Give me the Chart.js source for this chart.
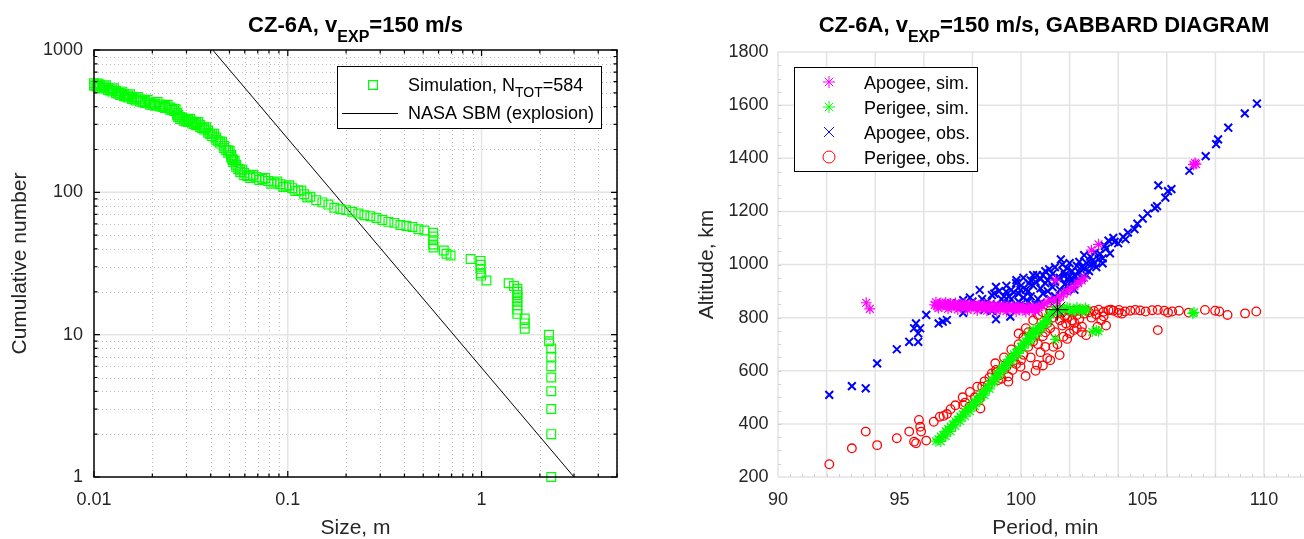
<!DOCTYPE html>
<html>
<head>
<meta charset="utf-8">
<script src="https://cdn.jsdelivr.net/npm/chart.js@4.4.1/dist/chart.umd.min.js"></script>
<style>
  html, body { margin: 0; padding: 0; background: #fff; overflow: hidden; }
  #wrap { position: relative; width: 1304px; height: 539px; overflow: hidden; }
  #cLeft { position: absolute; left: 0; top: 0; }
  #cRight { position: absolute; left: 640px; top: 0; }
</style>
</head>
<body>
<div id="wrap">
  <canvas id="cLeft" width="640" height="539"></canvas>
  <canvas id="cRight" width="700" height="539"></canvas>
</div>
<script>
// ---- left panel: cumulative size distribution ----
const simSize = [0.0100, 0.01036, 0.01074, 0.01126, 0.01181, 0.01239, 0.01299, 0.01363, 0.01429, 0.01498,
  0.01572, 0.01648, 0.01729, 0.01835, 0.01947, 0.02067, 0.02193, 0.02328, 0.02471, 0.02591,
  0.02685, 0.02717, 0.02783, 0.02918, 0.03060, 0.03210, 0.03366, 0.03530, 0.03703, 0.03883,
  0.04073, 0.04271, 0.04480, 0.04697, 0.04927, 0.05105, 0.05228, 0.05418, 0.05682, 0.05959,
  0.0640, 0.06874, 0.07384, 0.0793, 0.0852, 0.0915, 0.0982, 0.1055, 0.1133, 0.1217,
  0.1307, 0.1404, 0.1508, 0.1620, 0.1739, 0.1867, 0.2005, 0.2154, 0.2313, 0.2484,
  0.2669, 0.2866, 0.3078, 0.3306, 0.3550, 0.3813, 0.4095, 0.4398, 0.4723, 0.5073,
  0.563, 0.563, 0.563, 0.563, 0.565, 0.638, 0.659, 0.692, 0.878, 0.988,
  0.988, 0.988, 0.990, 0.995, 1.06, 1.38, 1.47, 1.53, 1.53, 1.53,
  1.53, 1.53, 1.53, 1.53, 1.53, 1.67, 1.67, 1.67, 2.23, 2.23,
  2.29, 2.29, 2.29, 2.29, 2.29, 2.29, 2.29, 2.29,
  // upper-edge readings of the dense band
  0.01018, 0.01055, 0.0110, 0.01153, 0.0121, 0.01269, 0.01331, 0.01396, 0.01463, 0.01535,
  0.0161, 0.01688, 0.01781, 0.0189, 0.02006, 0.02129, 0.0226, 0.02398, 0.0253, 0.02638,
  0.0285, 0.02988, 0.03134, 0.03287, 0.03447, 0.03615, 0.03792, 0.03977, 0.04171, 0.04374,
  0.04587, 0.04811, 0.05015, 0.05166, 0.05322, 0.05548, 0.05819, 0.06176, 0.06633, 0.07124,
  0.07652, 0.0822, 0.0883, 0.0948, 0.1018, 0.1093, 0.1174, 0.1261,
  // lower-edge readings of the dense band
  0.0100, 0.01036, 0.01074, 0.01126, 0.01181, 0.01239, 0.01299, 0.01363, 0.01429, 0.01498,
  0.01572, 0.01648, 0.01729, 0.01835, 0.01947, 0.02067, 0.02193, 0.02328, 0.02471, 0.02591,
  0.02685, 0.02717, 0.02783, 0.02918, 0.03060, 0.03210, 0.03366, 0.03530, 0.03703, 0.03883,
  0.04073, 0.04271, 0.04480, 0.04697, 0.04927, 0.05105, 0.05228, 0.05418, 0.05682, 0.05959,
  0.0640];
const simCount = [584, 573, 564, 555, 542, 529, 516, 499, 491, 480,
  468, 457, 450, 439, 428, 421, 415, 405, 395, 386,
  361, 350, 339, 328, 323, 315, 307, 298, 286, 272,
  257, 243, 228, 212, 197, 183, 169, 156, 144, 137,
  131, 128, 124, 120, 117, 114, 110, 107, 103, 97,
  93, 88, 85, 82, 78, 76, 75, 73, 71, 69,
  68, 66, 64, 62, 61, 59, 58, 57, 55, 54,
  52, 49, 46, 43, 41, 39, 37, 36, 34, 33,
  31, 29, 27, 26, 24, 23, 22, 21, 20, 19,
  18, 17, 16, 15, 14, 13, 12, 11, 10, 9,
  8, 7, 6, 5, 4, 3, 2, 1,
  561, 582, 543, 565, 519, 538, 492, 510, 471, 488,
  449, 467, 431, 447, 412, 431, 398, 412, 379, 384,
  336, 315, 329, 302, 312, 283, 287, 257, 258, 228,
  227, 198, 196, 171, 167, 146, 145, 130, 133, 122,
  126, 115, 119, 109, 112, 102, 103, 92,
  564, 553, 544, 536, 523, 510, 498, 482, 474, 463,
  452, 441, 434, 424, 413, 406, 400, 391, 381, 372,
  348, 338, 327, 317, 312, 304, 296, 288, 276, 262,
  248, 234, 220, 205, 190, 177, 163, 151, 139, 132,
  126];
const sbmSize = [0.041, 3.0];
const sbmCount = [1000, 1];
const sizeTicks = [0.01, 0.1, 1];
const countTicks = [1, 10, 100, 1000];

// ---- right panel: Gabbard diagram ----
const apoSimPeriod = [96.45, 96.55, 96.65, 96.75, 96.85, 96.95, 97.05, 97.15, 97.25, 97.35,
  97.45, 97.55, 97.65, 97.75, 97.85, 97.95, 98.05, 98.15, 98.25, 98.35,
  98.45, 98.55, 98.65, 98.75, 98.85, 98.95, 99.05, 99.15, 99.25, 99.35,
  99.45, 99.55, 99.65, 99.75, 99.85, 99.95, 100.05, 100.15, 100.25, 100.35,
  100.45, 100.55, 100.65, 100.75, 100.85, 100.95, 101.1, 101.25, 101.45, 101.6,
  101.75, 101.9, 102.05, 102.2, 102.35, 102.5, 102.6,
  96.5, 96.7, 96.9, 97.1, 97.3, 97.5, 97.7, 97.9, 98.1, 98.3,
  98.5, 98.7, 98.9, 99.1, 99.3, 99.5, 99.7, 99.9, 100.1, 100.3, 100.5,
  96.6, 97.0, 97.4, 97.8, 98.2, 98.6, 99.0, 99.4, 99.8, 100.2, 100.6,
  93.63, 93.78, 101.42, 101.47, 102.9, 103.19, 107.1, 107.16, 107.2];
const apoSimAlt = [848, 844, 849, 845, 850, 843, 847, 842, 846, 841,
  846, 840, 845, 839, 844, 839, 843, 838, 842, 837,
  842, 836, 841, 836, 840, 835, 840, 834, 839, 834,
  838, 833, 838, 833, 837, 832, 836, 831, 836, 831,
  835, 832, 836, 840, 846, 852, 858, 866, 862, 878,
  888, 898, 908, 918, 930, 940, 950,
  858, 855, 857, 853, 855, 851, 853, 849, 851, 847,
  849, 845, 847, 843, 845, 841, 843, 840, 842, 838, 840,
  836, 833, 831, 829, 827, 826, 825, 824, 823, 822, 823,
  856, 833, 941, 866, 1054, 1076, 1376, 1382, 1378];

const periSimPeriod = [96.5, 96.6, 96.7, 96.8, 96.9, 97.0, 97.1, 97.2, 97.3, 97.4,
  97.5, 97.6, 97.7, 97.8, 97.9, 98.0, 98.1, 98.2, 98.3, 98.4,
  98.5, 98.6, 98.7, 98.8, 98.9, 99.0, 99.1, 99.2, 99.3, 99.4,
  99.5, 99.6, 99.7, 99.8, 99.9, 100.0, 100.1, 100.2, 100.3, 100.4,
  100.5, 100.6, 100.7, 100.8, 100.9, 101.0, 101.1, 101.2, 101.3, 101.4,
  101.5, 101.6, 101.8, 102.0, 102.2, 102.4, 102.55, 102.7,
  96.7, 96.9, 97.1, 97.3, 97.5, 97.7, 97.9, 98.1, 98.3, 98.5,
  98.7, 98.9, 99.1, 99.3, 99.5, 99.7, 99.9, 100.1, 100.3, 100.5,
  100.7, 100.9, 101.1,
  101.6, 101.9, 102.1, 102.3, 102.5, 102.65,
  107.07, 107.12, 102.93, 103.19, 103.1, 101.42, 100.32, 100.5];
const periSimAlt = [335, 342, 352, 358, 372, 380, 390, 398, 410, 416,
  428, 436, 447, 454, 466, 474, 485, 492, 505, 512,
  526, 534, 550, 560, 575, 584, 598, 606, 622, 628,
  643, 650, 662, 668, 683, 690, 704, 710, 722, 728,
  742, 748, 760, 766, 780, 788, 800, 812, 822, 828,
  830, 834, 830, 833, 828, 832, 830, 828,
  334, 354, 372, 392, 410, 429, 448, 467, 487, 508,
  532, 557, 580, 604, 625, 644, 665, 686, 704, 724,
  742, 762, 782,
  822, 838, 822, 838, 822, 836,
  816, 820, 747, 749, 752, 718, 734, 755];

const apoObsPeriod = [109.71, 109.21, 108.53, 108.11, 108.03, 107.6, 106.93, 106.19, 106.05, 105.65,
  105.94, 105.6, 105.51, 105.21, 105.01, 104.79, 104.67, 104.4, 104.2, 104.3,
  104.0, 103.85, 103.66, 103.5, 103.36, 103.2, 103.1, 102.9, 102.8, 102.7,
  102.6, 102.5, 102.4, 102.3, 102.2, 102.1, 102.0, 101.9, 101.8, 101.64,
  101.16, 101.75, 101.6, 101.4, 101.2, 101.0, 100.8, 100.66, 100.5, 100.32,
  100.2, 99.98, 99.81, 99.7, 99.56, 99.5, 99.39, 99.2, 98.97, 98.97,
  98.8, 98.6, 98.3, 98.13, 97.9, 97.62, 97.62, 97.35, 97.12, 96.95,
  96.78, 96.61, 96.1, 95.85, 95.77, 95.77, 95.68, 95.6, 95.4, 94.89,
  94.08, 93.61, 93.04, 92.11,
  99.0, 99.3, 99.6, 99.9, 100.1, 100.4, 100.7, 100.9, 101.1, 101.3,
  100.6, 100.2, 99.8, 101.6, 101.9, 102.1, 98.5, 98.8, 102.6, 103.0, 103.36,
  98.2, 98.4, 98.6, 98.9, 99.1, 99.3, 99.4, 99.6, 99.8, 99.9,
  100.0, 100.1, 100.3, 100.4, 100.5, 100.6, 100.8, 100.9, 101.0, 101.1,
  101.3, 101.4, 101.5, 101.7, 101.8, 101.9, 102.0, 102.1, 102.3, 102.4,
  102.5, 102.7, 102.85, 102.95, 103.05, 103.25, 103.45, 103.6, 103.8, 99.5,
  100.0, 100.3, 100.8, 101.2, 101.4, 97.8, 98.0, 99.2, 101.8, 102.2];
const apoObsAlt = [1606, 1569, 1515, 1471, 1453, 1408, 1353, 1284, 1276, 1298,
  1252, 1220, 1212, 1192, 1173, 1154, 1133, 1120, 1104, 1095,
  1080, 1085, 1042, 1060, 1004, 1020, 990, 1000, 975, 960,
  985, 950, 970, 940, 960, 930, 955, 945, 925, 1019,
  982, 973, 950, 935, 955, 930, 945, 960, 920, 929,
  905, 904, 941, 895, 804, 880, 898, 870, 916, 794,
  885, 860, 904, 841, 875, 866, 818, 852, 854, 791,
  785, 778, 810, 760, 741, 709, 778, 760, 709, 681,
  628, 534, 542, 509,
  850, 860, 870, 860, 875, 880, 870, 890, 900, 915,
  850, 845, 845, 905, 920, 940, 830, 825, 1035, 1004, 1023,
  850, 870, 845, 890, 900, 880, 920, 905, 930, 890,
  920, 950, 900, 940, 960, 935, 910, 960, 975, 940,
  965, 990, 950, 1000, 960, 985, 1005, 975, 995, 1010,
  990, 1005, 1030, 1015, 1045, 1040, 1070, 1090, 1100, 855,
  850, 860, 855, 870, 880, 845, 860, 838, 900, 905];

const periObsPeriod = [92.11, 93.04, 93.61, 94.08, 94.89, 95.4, 95.6, 95.68, 95.8, 95.85,
  95.89, 96.1, 96.41, 96.66, 96.81, 96.95, 97.62, 97.88, 98.33, 98.3,
  98.63, 98.94, 99.06, 98.4, 98.1, 97.7, 98.8,
  99.14, 99.48, 99.48, 99.65, 99.98, 100.19, 100.66, 101.08, 101.59, 101.33,
  101.75, 102.0, 102.18, 102.51, 101.85, 98.97, 99.3, 99.6, 99.9, 100.1,
  100.3, 100.5, 100.7, 100.9, 101.0, 101.2, 101.4, 101.6, 101.7, 101.9,
  102.1, 102.3, 102.4, 102.6, 102.8, 103.0, 103.2, 103.4, 103.6, 103.3,
  103.5, 102.9, 103.15, 102.68, 100.8, 101.1, 101.3, 101.5, 101.7, 102.2,
  102.4, 100.0, 99.8, 100.4, 100.8, 99.2,
  104.03, 104.28, 104.5, 104.7, 104.9, 105.13, 105.4, 105.63, 105.9, 106.05,
  106.22, 106.5, 106.9, 107.57, 107.99, 108.16, 108.5, 109.22, 109.68, 105.63,
  103.8, 104.15,
  99.9, 100.2, 100.5, 100.7, 100.9, 101.2, 101.6, 102.0, 102.7, 103.1,
  103.4, 103.7, 104.0, 101.8, 102.2, 102.5, 101.0, 100.6, 100.3, 100.1,
  100.6, 101.2, 100.9, 101.5, 101.9, 102.3, 99.7, 99.4, 99.0, 98.7,
  98.5, 98.2, 97.9, 97.6, 97.3, 97.1];
const periObsAlt = [248, 308, 371, 320, 346, 371, 333, 327, 415, 389,
  371, 337, 408, 427, 430, 437, 471, 465, 458, 496,
  546, 628, 565, 540, 500, 480, 590,
  584, 578, 559, 603, 615, 580, 622, 647, 659, 690,
  728, 741, 753, 766, 778, 603, 650, 680, 700, 660,
  690, 710, 700, 730, 690, 760, 745, 790, 770, 800,
  790, 810, 795, 815, 820, 825, 830, 822, 828, 790,
  770, 800, 766, 734, 760, 780, 800, 815, 820, 825,
  828, 640, 625, 650, 670, 570,
  829, 823, 826, 829, 827, 823, 828, 829, 826, 819,
  823, 826, 819, 829, 826, 823, 810, 816, 823, 753,
  826, 815,
  740, 760, 790, 810, 820, 825, 830, 825, 826, 812,
  805, 830, 818, 805, 780, 745, 745, 735, 745, 725,
  600, 640, 620, 700, 720, 760, 640, 615, 595, 575,
  560, 540, 520, 500, 470, 455];

const parentPeriod = [101.5];
const parentAlt = [830];
const periodTicks = [90, 95, 100, 105, 110];
const altTicks = [200, 400, 600, 800, 1000, 1200, 1400, 1600, 1800];

// ---- shared helpers ----
const FAMILY = "'Liberation Sans', Arial, Helvetica, sans-serif";
Chart.defaults.font.family = FAMILY;
Chart.defaults.color = '#262626';
const pts = (xs, ys) => xs.map((x, i) => ({ x: x, y: ys[i] }));

function drawRich(ctx, parts, cx, base, font, subFont, subDrop) {
    let total = 0;
    parts.forEach(p => {
        ctx.font = p.sub ? subFont : font;
        p.w = ctx.measureText(p.t).width;
        total += p.w;
    });
    let x = cx === null ? parts.x0 : cx - total / 2;
    ctx.textAlign = 'left';
    ctx.textBaseline = 'alphabetic';
    parts.forEach(p => {
        ctx.font = p.sub ? subFont : font;
        ctx.fillText(p.t, x, base + (p.sub ? subDrop : 0));
        x += p.w;
    });
}

function marker(ctx, style, radius, color, lw, x, y) {
    ctx.save();
    ctx.strokeStyle = color;
    ctx.fillStyle = 'rgba(0,0,0,0)';
    ctx.lineWidth = lw;
    Chart.helpers.drawPoint(ctx, { pointStyle: style, radius: radius, rotation: 0, borderWidth: lw }, x, y);
    ctx.restore();
}

// ---- left chart plugins ----
const logFrame = {
    id: 'logFrame',
    beforeDatasetsDraw(chart) {
        const { ctx, chartArea: a, scales: { x, y } } = chart;
        ctx.save();
        // dotted minor grid
        ctx.strokeStyle = '#bdbdbd';
        ctx.lineWidth = 1;
        ctx.setLineDash([1, 3]);
        [0.01, 0.1, 1].forEach(d => {
            for (let m = 2; m <= 9; m++) {
                const v = d * m;
                if (v > 5) break;
                const px = Math.round(x.getPixelForValue(v)) + 0.5;
                ctx.beginPath(); ctx.moveTo(px, a.top); ctx.lineTo(px, a.bottom); ctx.stroke();
            }
        });
        [1, 10, 100].forEach(d => {
            for (let m = 2; m <= 9; m++) {
                const py = Math.round(y.getPixelForValue(d * m)) + 0.5;
                ctx.beginPath(); ctx.moveTo(a.left, py); ctx.lineTo(a.right, py); ctx.stroke();
            }
        });
        // solid major grid
        ctx.setLineDash([]);
        ctx.strokeStyle = '#e4e4e4';
        ctx.lineWidth = 1.5;
        [0.1, 1].forEach(v => {
            const px = x.getPixelForValue(v);
            ctx.beginPath(); ctx.moveTo(px, a.top); ctx.lineTo(px, a.bottom); ctx.stroke();
        });
        [10, 100].forEach(v => {
            const py = y.getPixelForValue(v);
            ctx.beginPath(); ctx.moveTo(a.left, py); ctx.lineTo(a.right, py); ctx.stroke();
        });
        ctx.restore();
    },
    afterDatasetsDraw(chart) {
        const { ctx, chartArea: a, scales: { x, y } } = chart;
        ctx.save();
        ctx.strokeStyle = '#000';
        ctx.lineWidth = 1.2;
        const xt = (v, len) => {
            const px = x.getPixelForValue(v);
            ctx.beginPath();
            ctx.moveTo(px, a.bottom); ctx.lineTo(px, a.bottom - len);
            ctx.moveTo(px, a.top); ctx.lineTo(px, a.top + len);
            ctx.stroke();
        };
        const yt = (v, len) => {
            const py = y.getPixelForValue(v);
            ctx.beginPath();
            ctx.moveTo(a.left, py); ctx.lineTo(a.left + len, py);
            ctx.moveTo(a.right, py); ctx.lineTo(a.right - len, py);
            ctx.stroke();
        };
        [0.01, 0.1, 1].forEach(d => {
            xt(d, 6);
            for (let m = 2; m <= 9; m++) { if (d * m <= 5) xt(d * m, 3.5); }
        });
        [1, 10, 100].forEach(d => {
            yt(d, 6);
            for (let m = 2; m <= 9; m++) yt(d * m, 3.5);
        });
        yt(1000, 6);
        ctx.lineWidth = 1.5;
        ctx.strokeRect(a.left, a.top, a.right - a.left, a.bottom - a.top);
        ctx.restore();
    },
    afterDraw(chart) {
        const ctx = chart.ctx;
        ctx.save();
        ctx.fillStyle = '#000';
        drawRich(ctx, [{ t: 'CZ-6A, v' }, { t: 'EXP', sub: true }, { t: '=150 m/s' }],
            355.5, 32, "bold 22px " + FAMILY, "bold 16px " + FAMILY, 10);
        // legend
        ctx.fillStyle = '#fff';
        ctx.fillRect(337, 66, 264, 62);
        ctx.strokeStyle = '#000';
        ctx.lineWidth = 1;
        ctx.strokeRect(337.5, 66.5, 264, 62);
        marker(ctx, 'rect', 6.2, '#00ff00', 1.2, 373, 85);
        ctx.fillStyle = '#000';
        const parts = [{ t: 'Simulation, N' }, { t: 'TOT', sub: true }, { t: '=584' }];
        parts.x0 = 408;
        drawRich(ctx, parts, null, 91, "18px " + FAMILY, "14px " + FAMILY, 6);
        ctx.strokeStyle = '#000';
        ctx.beginPath(); ctx.moveTo(342, 113.5); ctx.lineTo(398, 113.5); ctx.stroke();
        ctx.font = "18px " + FAMILY;
        ctx.fillText('NASA SBM (explosion)', 408, 119);
        ctx.restore();
    }
};

new Chart(document.getElementById('cLeft'), {
    type: 'scatter',
    data: {
        datasets: [
            {
                label: 'Simulation',
                data: pts(simSize, simCount),
                pointStyle: 'rect',
                pointRadius: 6.2,
                borderColor: '#00ff00',
                backgroundColor: 'rgba(0,0,0,0)',
                borderWidth: 1.2,
                clip: false
            },
            {
                label: 'NASA SBM (explosion)',
                data: pts(sbmSize, sbmCount),
                showLine: true,
                pointRadius: 0,
                borderColor: '#000',
                borderWidth: 1
            }
        ]
    },
    options: {
        responsive: false,
        animation: false,
        events: [],
        layout: { padding: { left: 0, right: 23, top: 50, bottom: 0 } },
        plugins: { legend: { display: false }, tooltip: { enabled: false } },
        scales: {
            x: {
                type: 'logarithmic', min: 0.01, max: 5,
                afterBuildTicks: s => { s.ticks = sizeTicks.map(v => ({ value: v })); },
                afterFit: s => { s.height = 62; },
                grid: { display: false, drawTicks: false },
                border: { display: false },
                ticks: { font: { size: 18 }, padding: 12, autoSkip: false, maxRotation: 0, callback: v => String(v) },
                title: { display: true, text: 'Size, m', font: { size: 21, lineHeight: 1 }, padding: { top: 0, bottom: 0 } }
            },
            y: {
                type: 'logarithmic', min: 1, max: 1000,
                afterBuildTicks: s => { s.ticks = countTicks.map(v => ({ value: v })); },
                afterFit: s => { s.width = 94; },
                grid: { display: false, drawTicks: false },
                border: { display: false },
                ticks: { font: { size: 18 }, padding: 11, autoSkip: false, callback: v => String(v) },
                title: { display: true, text: 'Cumulative number', font: { size: 21, lineHeight: 1 }, padding: { top: 10, bottom: 0 } }
            }
        }
    },
    plugins: [logFrame]
});

// ---- right chart plugins ----
const gabbardFrame = {
    id: 'gabbardFrame',
    beforeDatasetsDraw(chart) {
        const { ctx, chartArea: a, scales: { x, y } } = chart;
        ctx.save();
        ctx.strokeStyle = '#e3e3e3';
        ctx.lineWidth = 1.5;
        for (let v = 90; v <= 112; v += 2) {
            const px = x.getPixelForValue(v);
            ctx.beginPath(); ctx.moveTo(px, a.top); ctx.lineTo(px, a.bottom); ctx.stroke();
        }
        for (let v = 200; v <= 1800; v += 200) {
            const py = y.getPixelForValue(v);
            ctx.beginPath(); ctx.moveTo(a.left, py); ctx.lineTo(a.right, py); ctx.stroke();
        }
        // faint minor ticks
        ctx.strokeStyle = '#cfcfcf';
        ctx.lineWidth = 1;
        for (let v = 90.5; v < 112; v += 0.5) {
            const px = Math.round(x.getPixelForValue(v)) + 0.5;
            ctx.beginPath(); ctx.moveTo(px, a.bottom); ctx.lineTo(px, a.bottom - 3); ctx.stroke();
        }
        for (let v = 250; v < 1800; v += 50) {
            const py = Math.round(y.getPixelForValue(v)) + 0.5;
            ctx.beginPath(); ctx.moveTo(a.left, py); ctx.lineTo(a.left + 3, py); ctx.stroke();
        }
        ctx.restore();
    },
    afterDraw(chart) {
        const ctx = chart.ctx;
        ctx.save();
        ctx.fillStyle = '#000';
        drawRich(ctx, [{ t: 'CZ-6A, v' }, { t: 'EXP', sub: true }, { t: '=150 m/s, GABBARD DIAGRAM' }],
            404, 32, "bold 22px " + FAMILY, "bold 16px " + FAMILY, 10);
        // legend
        const bx = 154, by = 67, bw = 183, bh = 104;
        ctx.fillStyle = '#fff';
        ctx.fillRect(bx, by, bw, bh);
        ctx.strokeStyle = '#000';
        ctx.lineWidth = 1;
        ctx.strokeRect(bx + 0.5, by + 0.5, bw, bh);
        const rows = [
            ['star', 6, '#ff00ff', 1, 'Apogee, sim.'],
            ['star', 6, '#00ff00', 1, 'Perigee, sim.'],
            ['crossRot', 7, '#0000ff', 1, 'Apogee, obs.'],
            ['circle', 6, '#ff0000', 1, 'Perigee, obs.']
        ];
        rows.forEach((r, i) => {
            marker(ctx, r[0], r[1], r[2], r[3], 189, 82 + i * 25);
            ctx.fillStyle = '#000';
            ctx.textAlign = 'left';
            ctx.textBaseline = 'alphabetic';
            ctx.font = "18px " + FAMILY;
            ctx.fillText(r[4], 224, 89 + i * 25);
        });
        ctx.restore();
    }
};

new Chart(document.getElementById('cRight'), {
    type: 'scatter',
    data: {
        datasets: [
            {
                label: 'Parent',
                data: pts(parentPeriod, parentAlt),
                pointStyle: 'star', pointRadius: 11, borderColor: '#000', borderWidth: 1
            },
            {
                label: 'Apogee, sim.',
                data: pts(apoSimPeriod, apoSimAlt),
                pointStyle: 'star', pointRadius: 5.5, borderColor: '#ff00ff', borderWidth: 1.2
            },
            {
                label: 'Perigee, sim.',
                data: pts(periSimPeriod, periSimAlt),
                pointStyle: 'star', pointRadius: 5.5, borderColor: '#00ff00', borderWidth: 1.2
            },
            {
                label: 'Apogee, obs.',
                data: pts(apoObsPeriod, apoObsAlt),
                pointStyle: 'crossRot', pointRadius: 5.5, borderColor: '#0000ff', borderWidth: 2
            },
            {
                label: 'Perigee, obs.',
                data: pts(periObsPeriod, periObsAlt),
                pointStyle: 'circle', pointRadius: 4.3, borderColor: '#ff0000',
                backgroundColor: 'rgba(0,0,0,0)', borderWidth: 1.3
            }
        ]
    },
    options: {
        responsive: false,
        animation: false,
        events: [],
        layout: { padding: { left: 0, right: 27.4, top: 52, bottom: 0 } },
        plugins: { legend: { display: false }, tooltip: { enabled: false } },
        scales: {
            x: {
                type: 'linear', min: 90, max: 112,
                afterBuildTicks: s => { s.ticks = periodTicks.map(v => ({ value: v })); },
                afterFit: s => { s.height = 62; },
                grid: { display: false, drawTicks: false },
                border: { display: false },
                ticks: { font: { size: 18 }, padding: 12, autoSkip: false, maxRotation: 0, callback: v => String(v) },
                title: { display: true, text: 'Period, min', font: { size: 21, lineHeight: 1 }, padding: { top: 0, bottom: 0 } }
            },
            y: {
                type: 'linear', min: 200, max: 1800,
                afterBuildTicks: s => { s.ticks = altTicks.map(v => ({ value: v })); },
                afterFit: s => { s.width = 138; },
                grid: { display: false, drawTicks: false },
                border: { display: false },
                ticks: { font: { size: 18 }, padding: 9.5, autoSkip: false, callback: v => String(v) },
                title: { display: true, text: 'Altitude, km', font: { size: 21, lineHeight: 1 }, padding: { top: 57, bottom: 0 } }
            }
        }
    },
    plugins: [gabbardFrame]
});
</script>
</body>
</html>
